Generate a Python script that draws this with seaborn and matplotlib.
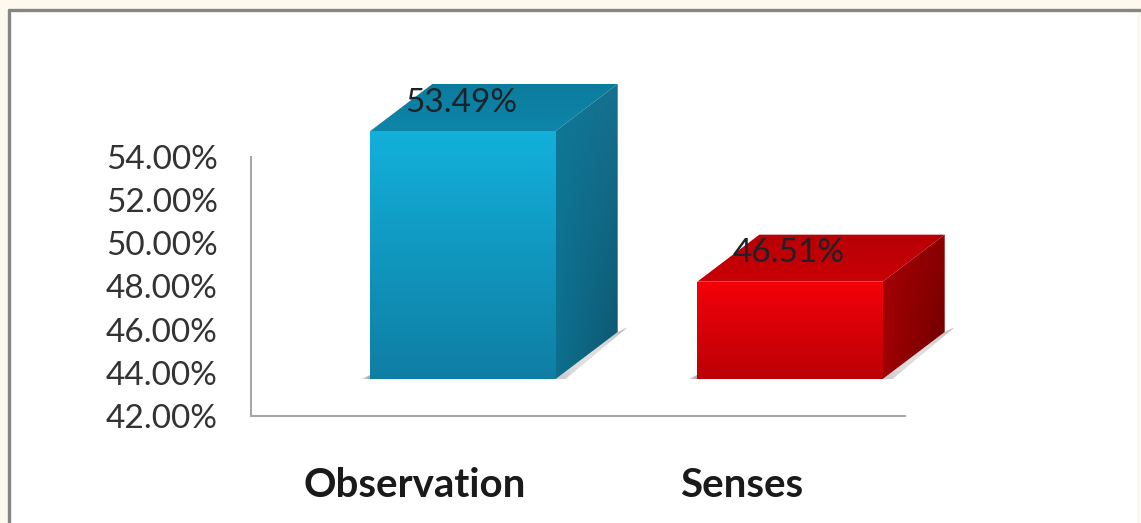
import numpy as np
import pandas as pd
import matplotlib
matplotlib.use("Agg")
import matplotlib.pyplot as plt
from matplotlib.colors import to_rgb
from matplotlib.lines import Line2D
from matplotlib.patches import Polygon, Rectangle
import seaborn as sns

categories = ["Observation", "Senses"]
values = [53.49, 46.51]
value_labels = ["53.49%", "46.51%"]
y_ticks = [42, 44, 46, 48, 50, 52, 54]
front_colors = [("#13b0da", "#0f7ea4"), ("#f40008", "#bb0006")]
top_colors = [("#0c7c9e", "#0e86aa"), ("#b80005", "#c80006")]
side_colors = [("#0f7898", "#16708e", "#0d6f8e", "#0c566e"),
               ("#a30004", "#8c0002", "#a00004", "#6a0000")]

W, H = 1141, 523
sns.set_theme(style="white")
plt.rcParams["font.family"] = ["Lato", "DejaVu Sans"]
fig = plt.figure(figsize=(W / 100, H / 100), dpi=100, facecolor="#fdf9ee")


def box(left, right, top, bottom):
    return [left / W, 1 - bottom / H, (right - left) / W, (bottom - top) / H]


fig.add_artist(Rectangle((9 / W, 0), 1 - 13 / W, 1 - 10 / H, transform=fig.transFigure,
                         facecolor="white", edgecolor="none", zorder=-5))
frame = "#858585"
fig.add_artist(Line2D([9 / W, 1], [1 - 10 / H, 1 - 10 / H], transform=fig.transFigure,
                      color=frame, lw=2.4, zorder=-4))
fig.add_artist(Line2D([9 / W, 9 / W], [0, 1 - 10 / H], transform=fig.transFigure,
                      color=frame, lw=2.4, zorder=-4))

# Axis plane
ax = fig.add_axes(box(251, 905, 157, 416), facecolor="none")
ax.set_xlim(-0.5, 1.5)
ax.set_ylim(42, 54)
ax.set_yticks(y_ticks)
ax.set_yticklabels([f"{t:.2f}%" for t in y_ticks], fontsize=24, color="#333333")
ax.set_xticks(range(len(categories)))
ax.set_xticklabels(categories, fontsize=29, fontweight="bold", color="#1a1a1a")
ax.tick_params(axis="y", length=0, pad=24)
ax.tick_params(axis="x", length=0, pad=37)
for side in ("top", "right"):
    ax.spines[side].set_visible(False)
for side in ("left", "bottom"):
    ax.spines[side].set_color("#a6a6a6")
    ax.spines[side].set_linewidth(1.5)

# Bars, raised and shifted in front of the axis plane; same px-per-percent scale
px_per_pct = 259 / 12
bar_ymax = 58
bx = fig.add_axes(box(299.5, 953.5, 379 - px_per_pct * (bar_ymax - 42), 379), facecolor="none")
df = pd.DataFrame({"category": categories, "value": values})
sns.barplot(data=df, x="category", y="value", hue="category",
            palette=[c[0] for c in front_colors], width=0.567, legend=False,
            saturation=1, linewidth=0, ax=bx)
bx.set_xlim(-0.5, 1.5)
bx.set_ylim(42, bar_ymax)
bx.set_axis_off()

depth_x = 62 / (654 / 2)
depth_y = 47 / px_per_pct


def shade(verts, tl, tr, bl, br, zorder):
    verts = np.array(verts)
    x0, y0 = verts.min(axis=0)
    x1, y1 = verts.max(axis=0)
    u, v = np.meshgrid(np.linspace(0, 1, 80), np.linspace(0, 1, 80))
    u, v = u[..., None], v[..., None]
    tl, tr, bl, br = [np.array(to_rgb(c)) for c in (tl, tr, bl, br)]
    img = (1 - v) * ((1 - u) * tl + u * tr) + v * ((1 - u) * bl + u * br)
    im = bx.imshow(img, extent=(x0, x1, y0, y1), origin="upper", aspect="auto",
                   interpolation="bilinear", zorder=zorder)
    im.set_clip_path(Polygon(verts, closed=True, transform=bx.transData))


for i, bar in enumerate(bx.patches[:len(values)]):
    x0 = bar.get_x()
    x1 = x0 + bar.get_width()
    y0, y1 = 42, values[i]
    dx, dy = depth_x, depth_y
    # soft floor shadow
    shade([(x1, y0), (x1 + dx, y0 + dy), (x1 + dx * 1.16, y0 + dy * 1.1),
           (x1 + dx * 0.16, y0)],
          "#ffffff", "#b5b5b5", "#c8c8c8", "#ffffff", 1)
    shade([(x0 - 0.025, y0), (x0, y0 + 0.2), (x0, y0)],
          "#ffffff", "#bbbbbb", "#d0d0d0", "#999999", 1)
    # faces
    top = [(x0, y1), (x1, y1), (x1 + dx, y1 + dy), (x0 + dx, y1 + dy)]
    side = [(x1, y0), (x1 + dx, y0 + dy), (x1 + dx, y1 + dy), (x1, y1)]
    shade(top, top_colors[i][0], top_colors[i][0], top_colors[i][1], top_colors[i][1], 2)
    a, b, c, d = side_colors[i]
    shade(side, a, b, c, d, 2)
    bar.set_zorder(3)
    shade([(x0, y0), (x1, y0), (x1, y1), (x0, y1)],
          front_colors[i][0], front_colors[i][0], front_colors[i][1], front_colors[i][1], 4)
    bx.annotate(value_labels[i], xy=(i, values[i]), xytext=(-1, 20.5),
                textcoords="offset points", ha="center", va="center",
                fontsize=24, color="#1c2328", zorder=6, annotation_clip=False)

bx.set_xlim(-0.5, 1.5)
bx.set_ylim(42, bar_ymax)
fig.savefig("out.png", dpi=100, facecolor=fig.get_facecolor())
